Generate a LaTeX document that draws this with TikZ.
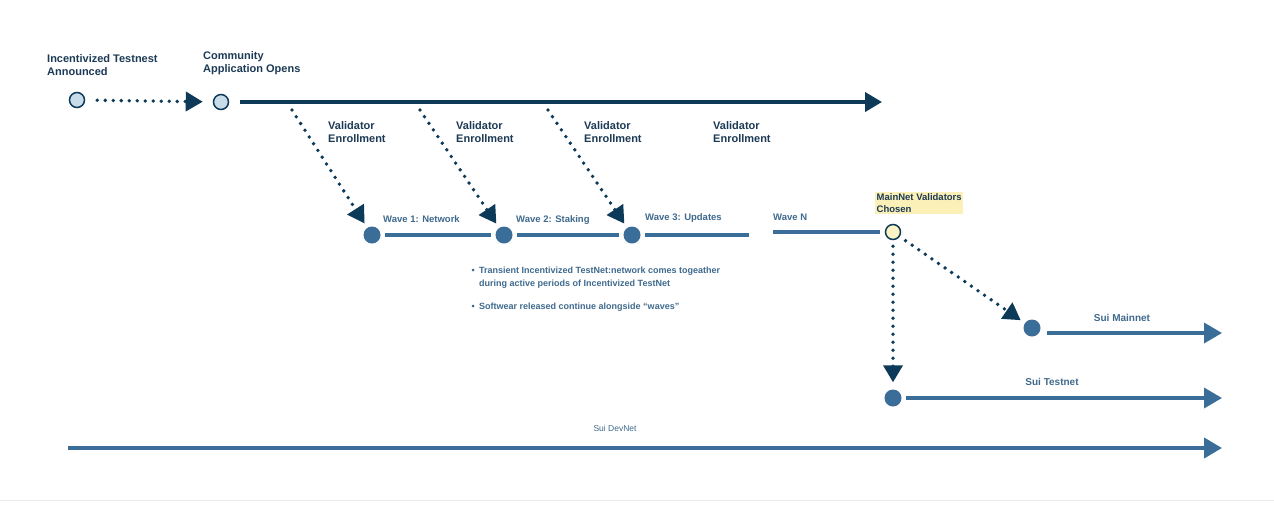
\documentclass[tikz,border=0pt]{standalone}
\usepackage{fontspec}
\setmainfont{Liberation Sans}
\usetikzlibrary{arrows.meta}
\definecolor{navy}{HTML}{0E3A5A}
\definecolor{wblue}{HTML}{3A6E98}
\definecolor{txt}{HTML}{1C3A56}
\definecolor{wtxt}{HTML}{3F6A8E}
\definecolor{lblue}{HTML}{C9DCEA}
\definecolor{lyellow}{HTML}{FCF3C4}
\definecolor{hl}{HTML}{FBF0B8}
\begin{document}
\begin{tikzpicture}[x=1pt,y=-1pt,
  openc/.style={circle, draw=navy, line width=1.5pt, minimum size=15pt, inner sep=0pt, fill=lblue},
  dotc/.style={circle, fill=wblue, minimum size=17pt, inner sep=0pt},
  lbl/.style={font=\bfseries\fontsize{11}{13}\selectfont, text=txt, align=left, anchor=north west, inner sep=0pt},
  wlbl/.style={font=\bfseries\fontsize{9.5}{11}\selectfont, text=wtxt, anchor=base west, inner sep=0pt},
  nlbl/.style={font=\bfseries\fontsize{10}{12}\selectfont, text=wtxt, anchor=base, inner sep=0pt},
  btxt/.style={font=\bfseries\fontsize{9}{13}\selectfont, text=wtxt, align=left, anchor=north west, inner sep=0pt},
  dots/.style={line width=3.8pt, dash pattern=on 0pt off 8pt, line cap=round, draw=navy},
  ntip/.style={-{Triangle[length=17pt,width=19pt]}},
  wline/.style={line width=3.5pt, draw=wblue},
  btip/.style={-{Triangle[length=18pt,width=20pt]}}
]
\useasboundingbox[fill=white] (0,0) rectangle (1274,507);
\draw[black!8, line width=1pt] (0,500) -- (1274,500);

% top row
\node[openc] (ann) at (77,100) {};
\node[openc] (cao) at (221,102) {};
\node[lbl] (annl) at (47,54) {Incentivized Testnest\\Announced};
\node[lbl] (caol) at (203,51) {Community\\Application Opens};
\draw[dots, ntip, shorten <=12pt, shorten >=10pt] (ann) -- (cao);
\coordinate (topend) at (882,102);
\draw[navy, line width=4pt, ntip, shorten <=11pt] (cao.east) -- (topend);

% enrollment labels
\foreach \x/\n in {328/v1,456/v2,584/v3,713/v4}
  \node[lbl] (\n) at (\x,121) {Validator\\Enrollment};

% waves
\node[dotc] (w1) at (372,235) {};
\node[dotc] (w2) at (504,235) {};
\node[dotc] (w3) at (632,235) {};
\node[circle, draw=navy, line width=1.5pt, minimum size=15pt, inner sep=0pt, fill=lyellow] (mn) at (893,232) {};
\coordinate (s1) at (292,110);
\coordinate (s2) at (420,110);
\coordinate (s3) at (548,110);
\draw[dots, ntip, shorten >=5pt] (s1) -- (w1);
\draw[dots, ntip, shorten >=5pt] (s2) -- (w2);
\draw[dots, ntip, shorten >=5pt] (s3) -- (w3);
\draw[wline, shorten <=4pt, shorten >=4pt] (w1) -- (w2);
\draw[wline, shorten <=4pt, shorten >=4pt] (w2) -- (w3);
\coordinate (gl) at (749,235);
\coordinate (gr) at (773,232);
\draw[wline, shorten <=4pt] (w3) -- (gl);
\draw[wline, shorten >=5pt] (gr) -- (mn);
\node[wlbl] (w1l) at (383,222) {Wave 1: Network};
\node[wlbl] (w2l) at (516,222) {Wave 2: Staking};
\node[wlbl] (w3l) at (645,220) {Wave 3: Updates};
\node[wlbl] (wnl) at (773,220) {Wave N};
\node[lbl, fill=hl, inner sep=1.5pt, font=\bfseries\fontsize{9.5}{12}\selectfont] (mnl) at (875,192) {MainNet Validators\\Chosen};

% bullets
\node[btxt] (b1t) at (479,267) {Transient Incentivized TestNet:network comes togeather\\during active periods of Incentivized TestNet};
\node[btxt] (b2t) at (479,303) {Softwear released continue alongside ``waves''};
\node[btxt, anchor=base east] (b1) at ([xshift=-4pt, yshift=-6.3pt]b1t.north west) {\textbullet};
\node[btxt, anchor=base east] (b2) at ([xshift=-4pt, yshift=-6.3pt]b2t.north west) {\textbullet};

% mainnet / testnet
\node[dotc] (sm) at (1032,328) {};
\node[dotc] (st) at (893,398) {};
\draw[dots, ntip, shorten <=7pt, shorten >=5pt] (mn) -- (sm);
\draw[dots, ntip, shorten <=6pt, shorten >=7pt] (mn) -- (st);
\coordinate (sms) at (1047,333);
\coordinate (sme) at (1222,333);
\draw[wline, btip] (sms) -- (sme);
\coordinate (ste) at (1222,398);
\draw[wline, btip, shorten <=4pt] (st) -- (ste);
\node[nlbl] (sml) at (1122,321) {Sui Mainnet};
\node[nlbl] (stl) at (1052,385) {Sui Testnet};

% devnet
\coordinate (dvs) at (68,448);
\coordinate (dve) at (1222,448);
\draw[wline, line width=4pt, btip] (dvs) -- (dve);
\node[nlbl, font=\fontsize{8.5}{10}\selectfont] (dvl) at (615,431) {Sui DevNet};
\end{tikzpicture}
\end{document}
